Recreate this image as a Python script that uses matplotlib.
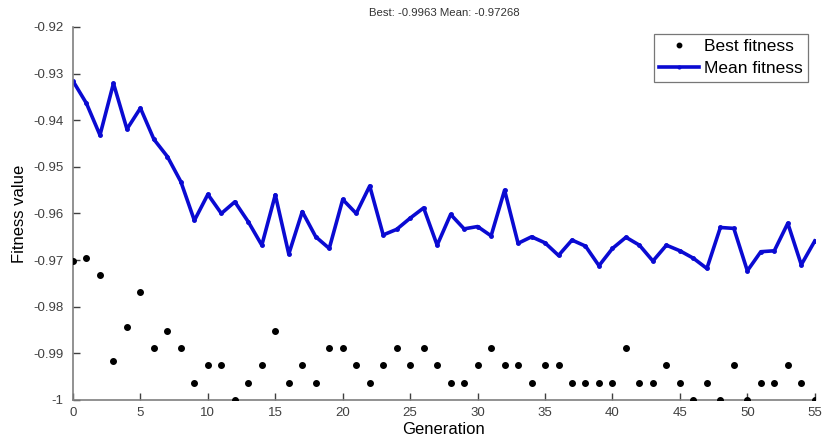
import numpy as np
import matplotlib
matplotlib.use('Agg')
import matplotlib.pyplot as plt
from matplotlib.ticker import FuncFormatter

# --- data ---
generation = np.arange(0, 56)

best_fitness = [
    -0.9702, -0.9695, -0.9731, -0.9917, -0.9843, -0.9769, -0.9889, -0.9852,
    -0.9889, -0.9963, -0.9926, -0.9926, -1.0000, -0.9963, -0.9926, -0.9852,
    -0.9963, -0.9926, -0.9963, -0.9889, -0.9889, -0.9926, -0.9963, -0.9926,
    -0.9889, -0.9926, -0.9889, -0.9926, -0.9963, -0.9963, -0.9926, -0.9889,
    -0.9926, -0.9926, -0.9963, -0.9926, -0.9926, -0.9963, -0.9963, -0.9963,
    -0.9963, -0.9889, -0.9963, -0.9963, -0.9926, -0.9963, -1.0000, -0.9963,
    -1.0000, -0.9926, -1.0000, -0.9963, -0.9963, -0.9926, -0.9963, -1.0000,
]

mean_fitness = [
    -0.9316, -0.9364, -0.9432, -0.9321, -0.9419, -0.9374, -0.9441, -0.9478,
    -0.9532, -0.9615, -0.9559, -0.9600, -0.9575, -0.9618, -0.9668, -0.9560,
    -0.9687, -0.9596, -0.9650, -0.9675, -0.9570, -0.9600, -0.9541, -0.9646,
    -0.9634, -0.9610, -0.9588, -0.9668, -0.9602, -0.9633, -0.9628, -0.9648,
    -0.9550, -0.9664, -0.9650, -0.9663, -0.9690, -0.9657, -0.9670, -0.9712,
    -0.9675, -0.9651, -0.9668, -0.9702, -0.9668, -0.9680, -0.9696, -0.9718,
    -0.9630, -0.9632, -0.9723, -0.9682, -0.9680, -0.9621, -0.9710, -0.9659,
]

titulo = 'Best: -0.9963 Mean: -0.97268'
x_ticks = [0, 5, 10, 15, 20, 25, 30, 35, 40, 45, 50, 55]
y_ticks = [-1.0, -0.99, -0.98, -0.97, -0.96, -0.95, -0.94, -0.93, -0.92]

# --- figure ---
plt.rcParams['font.family'] = ['Liberation Sans', 'DejaVu Sans']

fig = plt.figure(figsize=(8.23, 4.38), dpi=100)
ax = fig.add_axes([0.0887, 0.0868, 0.9013, 0.8516])

ax.plot(generation, best_fitness, '.', color='black', markersize=8,
        label='Best fitness', zorder=3)
ax.plot(generation, mean_fitness, '-', color='#0a0ad2', linewidth=2.6,
        marker='.', markersize=5, label='Mean fitness', zorder=2)

ax.set_xlim(0, 55)
ax.set_ylim(-1.0, -0.92)
ax.set_xticks(x_ticks)
ax.set_yticks(y_ticks)
ax.yaxis.set_major_formatter(FuncFormatter(lambda v, p: '%g' % round(v, 4)))

# estilo tipo MATLAB: solo ejes izquierdo e inferior, ticks hacia dentro
for s in ['top', 'right']:
    ax.spines[s].set_visible(False)
for s in ['left', 'bottom']:
    ax.spines[s].set_color('#7f7f7f')
    ax.spines[s].set_linewidth(1.2)
ax.tick_params(direction='in', length=5, width=1, color='#404040',
               labelcolor='#404040', labelsize=9.5)
ax.tick_params(axis='x', pad=5)
ax.tick_params(axis='y', pad=7)

ax.set_xlabel('Generation', fontsize=12, labelpad=2)
ax.set_ylabel('Fitness value', fontsize=12, labelpad=4)
ax.set_title(titulo, fontsize=8.2, color='#333333', pad=8)

leg = ax.legend(loc='upper right', fontsize=12.5, frameon=True, fancybox=False,
                handlelength=2.3, handletextpad=0.3, borderpad=0.3,
                labelspacing=0.4, borderaxespad=0.4, markerscale=0.8)
leg.get_frame().set_edgecolor('#555555')
leg.get_frame().set_linewidth(0.9)

fig.savefig('out.png', dpi=100)
